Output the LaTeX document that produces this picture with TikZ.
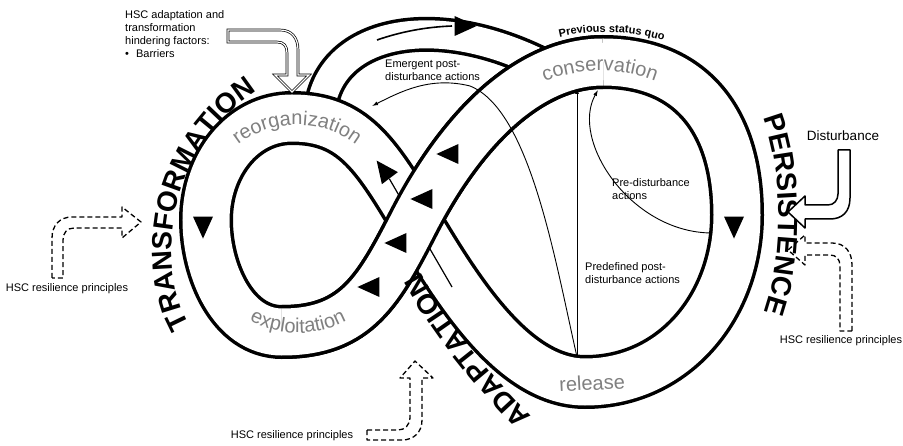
\documentclass[tikz,border=0pt]{standalone}
\usepackage{fontspec}
\setmainfont{Liberation Sans}
\usetikzlibrary{arrows.meta,shapes.geometric,decorations.text}

\begin{document}
\begin{tikzpicture}[x=1pt, y=-1pt,
    band/.style={line width=3.5pt, double=white, double distance=47pt},
    bridge/.style={line width=3.5pt, double=white, double distance=28pt},
    tri/.style={isosceles triangle, isosceles triangle stretches, fill=black,
                inner sep=0pt, minimum width=20pt, minimum height=22pt},
    thinarrow/.style={line width=0.9pt, -{Latex[length=6pt,width=4pt]}},
    infotext/.style={font=\fontsize{11}{13}\selectfont, align=left, inner sep=0pt},
    hollow/.style={line width=1.3pt, dash pattern=on 5pt off 3pt, line join=round},
    phase/.style={decorate, decoration={text along path, text align=center}}]
    \useasboundingbox (0,0) rectangle (903,446);

    % Loop points
    \coordinate (X) at (415,220);
    \coordinate (RT) at (603,62);
    \coordinate (RR) at (737,215);
    \coordinate (RB) at (585,382);
    \coordinate (LT) at (292,118);
    \coordinate (LL) at (206,220);
    \coordinate (LB) at (282,332);

    % Bridge back to previous status quo
    \coordinate (brL) at (320,118);
    \coordinate (brR) at (560,74);
    \draw[bridge] (brL) .. controls (322,30) and (440,5) .. (brR);
    \draw[line width=1.6pt] (377,40) .. controls (400,32) and (425,27) .. (452,26);
    \node[tri] (tBr) at (461,26) {};

    % Figure eight band
    \draw[band] (X) .. controls +(51,-98) and +(-70,0) .. (RT)
        .. controls +(87,0) and +(0,-95) .. (RR)
        .. controls +(0,90) and +(90,0) .. (RB)
        .. controls +(-70,0) and +(45,76) .. (X)
        .. controls +(-40,-67) and +(60,0) .. (LT)
        .. controls +(-50,0) and +(0,-55) .. (LL)
        .. controls +(0,50) and +(-50,0) .. (LB)
        .. controls +(75,0) and +(-36,70) .. (X);

    % Arrow under the crossing
    \coordinate (shB) at (452,287);
    \node[tri, rotate=127] (tB) at (386,173) {};
    \draw[line width=1.2pt] (shB) -- (tB);

    % Strand on top
    \draw[band] (LB) .. controls +(75,0) and +(-36,70) .. (X)
        .. controls +(51,-98) and +(-70,0) .. (RT);

    % Flow triangles
    \node[tri, rotate=180] (tA1) at (452,154) {};
    \node[tri, rotate=180] (tA2) at (426,199) {};
    \node[tri, rotate=180] (tA3) at (400,243) {};
    \node[tri, rotate=180] (tA4) at (373,287) {};
    \node[tri, rotate=-90] (tL) at (203,223) {};
    \node[tri, rotate=-90] (tR) at (734,223) {};

    % Actions
    \coordinate (relA) at (577,357);
    \coordinate (conA) at (577,88);
    \coordinate (preS) at (711,233);
    \coordinate (preE) at (598,90);
    \coordinate (emE) at (372,106);
    \draw[thinarrow] (relA) -- (conA);
    \draw[thinarrow] (preS) .. controls (630,232) and (570,140) .. (preE);
    \draw[thinarrow] (relA) .. controls (555,260) and (530,110) .. (470,86)
        .. controls (430,76) and (400,92) .. (emE);

    \node[infotext, anchor=north west] (emergent) at (385,60) {Emergent post-\\disturbance actions};
    \node[infotext, anchor=north west] (predist) at (612,178) {Pre-disturbance\\actions};
    \node[infotext, anchor=north west] (predef) at (585,262) {Predefined post-\\disturbance actions};

    % Phases
    \path[phase, decoration={text={|\color{gray}\fontsize{20}{20}\selectfont|reorganization}}]
        (297,222) ++(-135:97) arc[start angle=-135, end angle=-45, radius=97];
    \path[phase, decoration={text={|\color{gray}\fontsize{20}{20}\selectfont|conservation}}]
        (600,224) ++(-115:153) arc[start angle=-115, end angle=-65, radius=153];
    \path[phase, decoration={text={|\color{gray}\fontsize{20}{20}\selectfont|exploitation}}]
        (298,230) ++(125:103) arc[start angle=125, end angle=55, radius=103];
    \node[text=gray, font=\fontsize{20}{20}\selectfont, rotate=3] (release) at (592,383) {release};
    \path[phase, decoration={text={|\fontsize{11}{11}\selectfont\bfseries|Previous status quo}}]
        (605,230) ++(-106:198) arc[start angle=-106, end angle=-70, radius=198];

    % Pathways
    \path[phase, decoration={text={|\fontsize{28}{28}\selectfont\bfseries|TRANSFORMATION}}]
        (197,335) .. controls (158,290) and (152,150) .. (268,85);
    \path[phase, decoration={text={|\fontsize{28}{28}\selectfont\bfseries|PERSISTENCE}}]
        (757,105) .. controls (784,155) and (787,265) .. (759,325);
    \path[phase, decoration={text={|\fontsize{28}{28}\selectfont\bfseries|ADAPTATION}}]
        (540,425) .. controls (500,385) and (450,330) .. (415,262);

    % Barriers
    \node[infotext, anchor=north west] (hinder) at (125,10)
        {HSC adaptation and\\transformation\\hindering factors:\\\textbullet\hspace{7pt}Barriers};
    \draw[line width=0.7pt, double=white, double distance=1.2pt, fill=white]
        (228,30) -- (280,30) .. controls (292,30) and (298,38) .. (298,50) -- (298,75)
        -- (309,75) -- (292,92) -- (275,75) -- (287,75) -- (287,53)
        .. controls (287,46) and (284,42) .. (277,42) -- (228,42) -- cycle;

    % Disturbance
    \node[font=\fontsize{13.5}{16}\selectfont, inner sep=0pt] (disturb) at (843,136) {Disturbance};
    \draw[line width=1.5pt, fill=white, line join=round]
        (838,150) -- (850,150) -- (850,198) .. controls (850,212) and (842,219) .. (830,219)
        -- (805,219) -- (805,228) -- (788,212) -- (805,196) -- (805,205) -- (828,205)
        .. controls (834,205) and (838,200) .. (838,194) -- cycle;

    % Resilience principles
    \node[infotext] (hscL) at (67,289) {HSC resilience principles};
    \node[infotext] (hscB) at (292,436) {HSC resilience principles};
    \node[infotext] (hscR) at (841,341) {HSC resilience principles};
    \draw[hollow] (52,278) -- (52,238) .. controls (52,225) and (60,217) .. (72,217)
        -- (122,217) -- (122,207) -- (141,222) -- (122,238) -- (122,228) -- (74,228)
        .. controls (67,228) and (63,233) .. (63,240) -- (63,278) -- cycle;
    \draw[hollow] (367,430) -- (398,430) .. controls (405,430) and (410,425) .. (410,417)
        -- (410,378) -- (400,378) -- (415,361) -- (433,378) -- (422,378) -- (422,420)
        .. controls (422,432) and (414,440) .. (402,440) -- (367,440) -- cycle;
    \draw[hollow] (852,331) -- (852,265) .. controls (852,252) and (845,243) .. (832,243)
        -- (805,243) -- (805,235) -- (788,250) -- (805,265) -- (805,255) -- (830,255)
        .. controls (836,255) and (840,259) .. (840,266) -- (840,331) -- cycle;
\end{tikzpicture}
\end{document}
